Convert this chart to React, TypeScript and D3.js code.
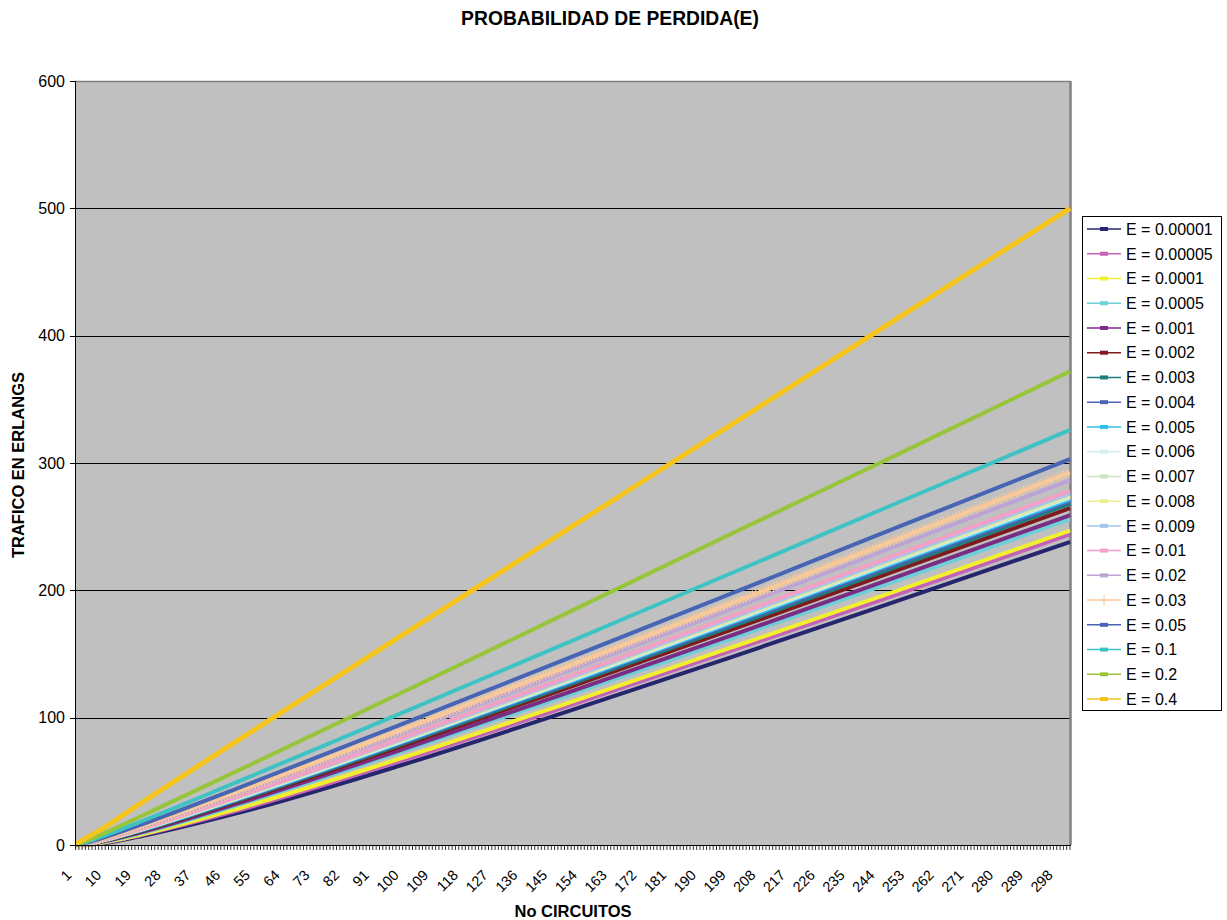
import React from "react";
import * as d3 from "d3";

// ---------- DATA ----------
const circuitSamples = [1, 5, 10, 20, 50, 100, 150, 200, 250, 302];
const seriesNames = [
  "E = 0.00001", "E = 0.00005", "E = 0.0001", "E = 0.0005", "E = 0.001",
  "E = 0.002", "E = 0.003", "E = 0.004", "E = 0.005", "E = 0.006",
  "E = 0.007", "E = 0.008", "E = 0.009", "E = 0.01", "E = 0.02",
  "E = 0.03", "E = 0.05", "E = 0.1", "E = 0.2", "E = 0.4",
];
const s00001 = [0.00001, 0.24, 1.6, 6.4, 25, 63, 105, 148, 192, 238];
const s00005 = [0.00005, 0.36, 2.0, 7.3, 27, 66.5, 109, 153, 197, 244];
const s0001 = [0.0001, 0.43, 2.26, 7.7, 28.5, 68.5, 111.5, 155.5, 200, 247];
const s0005 = [0.0005, 0.62, 2.78, 8.7, 31.3, 73.5, 117.5, 162.5, 208, 256];
const s001 = [0.001, 0.76, 3.09, 9.41, 32.5, 75.2, 119.7, 165, 211, 259];
const s002 = [0.002, 0.9, 3.43, 10.1, 34.0, 77.9, 123.4, 169.5, 216, 264.5];
const s003 = [0.003, 0.99, 3.65, 10.6, 34.9, 79.4, 125.5, 172, 219, 268];
const s004 = [0.004, 1.06, 3.83, 10.9, 35.5, 80.3, 126.8, 173.6, 221, 270];
const s005 = [0.005, 1.13, 3.96, 11.1, 36.0, 80.9, 127.6, 174.8, 222.5, 271.5];
const s006 = [0.006, 1.19, 4.08, 11.4, 36.5, 81.5, 128.5, 176, 223.7, 273];
const s007 = [0.007, 1.24, 4.18, 11.5, 36.9, 82.1, 129.2, 176.8, 224.6, 274];
const s008 = [0.008, 1.28, 4.28, 11.7, 37.2, 82.6, 129.8, 177.6, 225.5, 275];
const s009 = [0.009, 1.32, 4.37, 11.9, 37.6, 83.1, 130.5, 178.4, 226.4, 276];
const s01 = [0.0101, 1.36, 4.46, 12.0, 37.9, 84.1, 131.9, 180.1, 228.5, 278];
const s02 = [0.0204, 1.66, 5.08, 13.2, 40.3, 88.0, 136.8, 186, 235.5, 286.5];
const s03 = [0.0309, 1.88, 5.53, 14.0, 41.9, 90.7, 140.3, 190.3, 240.5, 292.5];
const s05 = [0.0526, 2.22, 6.22, 15.2, 44.5, 95.2, 146.5, 198, 249.8, 303];
const s1 = [0.111, 2.88, 7.51, 17.6, 49.6, 104, 159, 214, 269, 326];
const s2 = [0.25, 4.01, 9.68, 21.6, 58.2, 120, 182.5, 245, 307, 372];
const s4 = [0.667, 6.6, 14.3, 31.5, 82, 165, 248, 331, 414, 500];
const seriesValues = [s00001, s00005, s0001, s0005, s001, s002, s003, s004, s005, s006,
  s007, s008, s009, s01, s02, s03, s05, s1, s2, s4];
const seriesColors = [
  "#26266f", "#c462b8", "#f2ef2e", "#6fcfd9", "#7b2d83", "#7f1b1f", "#1a7f7c", "#4e64b4",
  "#30c0ee", "#d4f0f0", "#c9e4c4", "#eef08e", "#a6c6ea", "#f3a0c6", "#bca2d6", "#f9c99a",
  "#4865b5", "#3ec3c4", "#98c43a", "#f5c51e",
];
const firstCircuit = 1;
const lastCircuit = 302;
const labelStep = 9;
const yTicks = [0, 100, 200, 300, 400, 500, 600];
const titleText = "PROBABILIDAD DE PERDIDA(E)";
const xTitle = "No CIRCUITOS";
const yTitle = "TRAFICO EN ERLANGS";

// ---------- LAYOUT ----------
const W = 1227, H = 920;
const PL = 75, PR = 1070, PT = 81, PB = 845;
const FONT = "Arial, 'Liberation Sans', sans-serif";

export default function App() {
  const categories = d3.range(firstCircuit, lastCircuit + 1);
  const x = d3.scalePoint<number>().domain(categories).range([PL + 0.5, PR]);
  const y = d3.scaleLinear().domain([0, 600]).range([PB, PT]);
  const line = d3.line<[number, number]>()
    .x((d) => x(d[0]) as number)
    .y((d) => y(d[1]))
    .curve(d3.curveMonotoneX);
  const labelCats = categories.filter((c) => (c - firstCircuit) % labelStep === 0);

  const legX = 1082, legY = 216, legW = 139, legH = 494;
  const legStep = 24.74;

  return (
    <svg width={W} height={H} style={{ position: "absolute", left: 0, top: 0, background: "#fff" }}
      fontFamily={FONT}>
      <text x={610} y={25} textAnchor="middle" fontWeight="bold" fontSize={19.3}>{titleText}</text>

      {/* plot area */}
      <rect x={PL} y={PT} width={PR - PL} height={PB - PT} fill="#c0c0c0" />
      {yTicks.filter((t) => t > 0 && t < 600).map((t) => (
        <line key={t} x1={PL} x2={PR} y1={Math.round(y(t)) + 0.5} y2={Math.round(y(t)) + 0.5} stroke="#000" strokeWidth={1} />
      ))}
      <line x1={PL} x2={PR} y1={PT + 0.5} y2={PT + 0.5} stroke="#808080" strokeWidth={1.5} />
      <line x1={PR + 0.5} x2={PR + 0.5} y1={PT} y2={PB} stroke="#808080" strokeWidth={2.5} />

      {/* series */}
      {seriesValues.map((vals, i) => {
        const pts = circuitSamples.map((c, j) => [c, vals[j]] as [number, number]);
        const d = line(pts) as string;
        const w = i === 19 ? 5 : 4;
        return (
          <g key={i}>
            <path d={d} fill="none" stroke={seriesColors[i]} strokeWidth={w} strokeLinejoin="round" />
            {i === 15 && (
              <path d={d} fill="none" stroke={seriesColors[i]} strokeWidth={9} strokeDasharray="1.2 2.1" />
            )}
          </g>
        );
      })}

      {/* axes */}
      <line x1={PL + 0.5} x2={PL + 0.5} y1={PT} y2={PB} stroke="#000" strokeWidth={1} />
      <line x1={PL} x2={PR + 1} y1={PB + 0.5} y2={PB + 0.5} stroke="#000" strokeWidth={1} />
      {yTicks.map((t) => (
        <g key={t}>
          <line x1={PL - 5} x2={PL} y1={Math.round(y(t)) + 0.5} y2={Math.round(y(t)) + 0.5} stroke="#000" />
          <text x={PL - 10} y={y(t)} dy="0.36em" textAnchor="end" fontSize={16}>{t}</text>
        </g>
      ))}
      {categories.map((c) => (
        <line key={c} x1={x(c)} x2={x(c)} y1={PB} y2={PB + 5} stroke="#000" strokeWidth={0.8} />
      ))}
      {labelCats.map((c) => {
        const tx = (x(c) as number) - 3;
        const ty = 876;
        return (
          <text key={c} x={tx} y={ty} transform={`rotate(-45 ${tx} ${ty})`} textAnchor="end" fontSize={14.5}>{c}</text>
        );
      })}
      <text x={573} y={917} textAnchor="middle" fontWeight="bold" fontSize={16.5}>{xTitle}</text>
      <text transform={`translate(24 465) rotate(-90)`} textAnchor="middle" fontWeight="bold" fontSize={16.5}>{yTitle}</text>

      {/* legend */}
      <rect x={legX + 0.5} y={legY + 0.5} width={legW} height={legH} fill="#fff" stroke="#000" strokeWidth={1} />
      {seriesNames.map((name, i) => {
        const ly = 229 + i * legStep;
        return (
          <g key={name}>
            <line x1={1087} x2={1121} y1={ly} y2={ly} stroke={seriesColors[i]} strokeWidth={1.5} />
            {i === 15 ? (
              <path d={`M${1104 - 4},${ly}H${1104 + 4}M${1104},${ly - 5}V${ly + 5}`} stroke={seriesColors[i]} strokeWidth={1} />
            ) : (
              <rect x={1100} y={ly - 2} width={8} height={4} fill={seriesColors[i]} />
            )}
            <text x={1126} y={ly} dy="0.36em" fontSize={16}>{name}</text>
          </g>
        );
      })}
    </svg>
  );
}
